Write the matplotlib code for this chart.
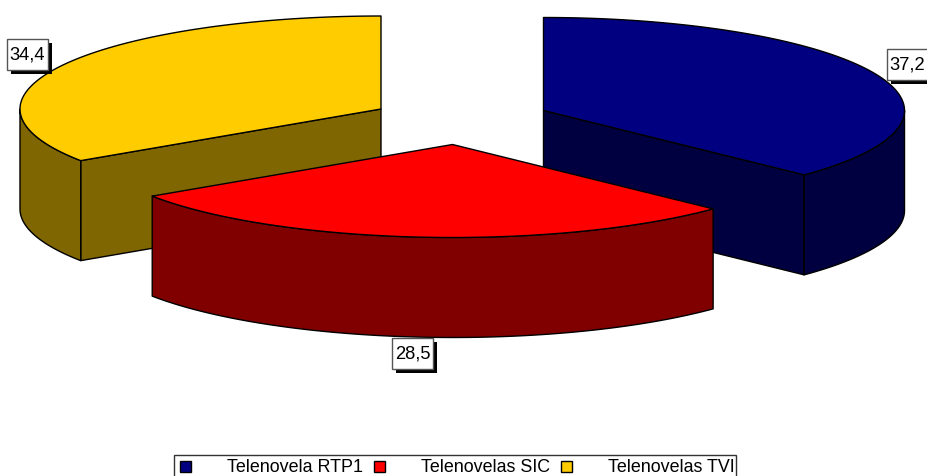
import matplotlib
matplotlib.use('Agg')
import matplotlib.pyplot as plt
from matplotlib.patches import Polygon, Rectangle
import numpy as np

labels = ['Telenovela RTP1', 'Telenovelas SIC', 'Telenovelas TVI']
values = [37.2, 28.5, 34.4]
value_text = ['37,2', '28,5', '34,4']
top_colors = ['#000080', '#FF0000', '#FFCC00']
side_colors = ['#000040', '#800000', '#806600']

# pie geometry in pixels
rx = 361
ry = 93
depth = 100
apex = [(543.5, 110.5), (452.5, 144.5), (381, 109)]
box_xy = [(887, 49), (392, 338), (7, 39)]
legend_marker_x = [186, 380, 567]
legend_text_x = [227, 421, 608]

plt.rcParams['font.family'] = ['Liberation Sans', 'DejaVu Sans']
fig = plt.figure(figsize=(9.28, 4.76), dpi=100)
ax = fig.add_axes([0, 0, 1, 1])
ax.set_xlim(0, 928)
ax.set_ylim(476, 0)
ax.axis('off')


def rim(c, a0, a1):
    t = np.radians(np.linspace(a0, a1, 200))
    return np.column_stack([c[0] + rx*np.sin(t), c[1] - ry*np.cos(t)])


def poly(pts, color, z):
    ax.add_patch(Polygon(pts, closed=True, facecolor=color, edgecolor='black', linewidth=1, zorder=z, joinstyle='round'))


def draw_slice(i, a0, a1, z):
    c = apex[i]
    arc = rim(c, a0, a1)
    down = np.array([0, depth])
    # cut faces, only the ones turned to the viewer
    for a in (a0, a1):
        p = rim(c, a, a)[0]
        if (i == 0 and a == a1) or (i == 2 and a == a0):
            poly([c, p, p + down, np.array(c) + down], side_colors[i], z)
    # outer wall, front half of the ellipse only
    lo = max(a0, 90)
    hi = min(a1, 270)
    if lo < hi:
        wall = rim(c, lo, hi)
        poly(np.vstack([wall, wall[::-1] + down]), side_colors[i], z)
    poly(np.vstack([[c], arc]), top_colors[i], z + 0.5)


edges = np.cumsum([0] + values) / sum(values) * 360
draw_slice(0, edges[0], edges[1], 1)
draw_slice(2, edges[2], edges[3], 2)
draw_slice(1, edges[1], edges[2], 3)

# value labels
for (x, y), t in zip(box_xy, value_text):
    ax.add_patch(Rectangle((x + 4, y + 4), 41, 31, facecolor='black', edgecolor='none', zorder=5))
    ax.add_patch(Rectangle((x, y), 41, 31, facecolor='white', edgecolor='#555555', linewidth=1, zorder=6))
    ax.text(x + 20.5, y + 16, t, fontsize=13.2, color='black', ha='center', va='center', zorder=7)

# legend
ax.add_patch(Rectangle((174, 455), 562, 24, facecolor='white', edgecolor='#333333', linewidth=1, zorder=5, clip_on=True))
for i in range(3):
    ax.add_patch(Rectangle((legend_marker_x[i] - 5.5, 460.5), 11, 11, facecolor=top_colors[i], edgecolor='black', linewidth=1, zorder=6))
    ax.text(legend_text_x[i], 467, labels[i], fontsize=12.9, color='black', ha='left', va='center', zorder=7)

fig.savefig('out.png', dpi=100)
